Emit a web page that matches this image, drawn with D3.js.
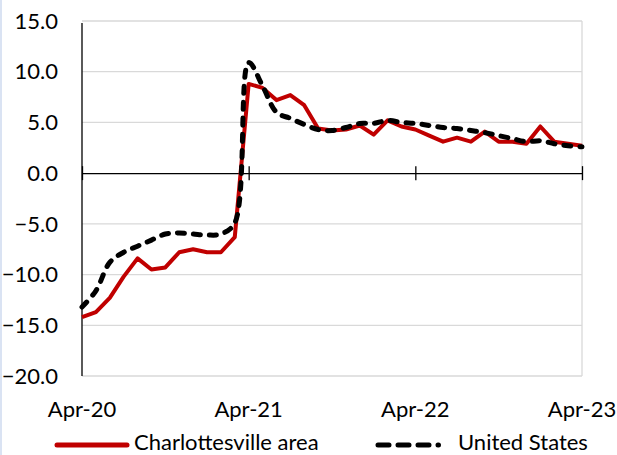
<!DOCTYPE html>
<html lang="en">
<head>
<meta charset="utf-8">
<title>Employment change</title>
<script src="https://d3js.org/d3.v7.min.js"></script>
<style>
  body { margin: 0; background: #fff; }
  text { font-family: Lato, "Open Sans", sans-serif; fill: #000; }
</style>
</head>
<body>
<script>
// month labels shown on the x axis (every 12 months)
var tickLabels = ["Apr-20", "Apr-21", "Apr-22", "Apr-23"];
var yTicks = [-20, -15, -10, -5, 0, 5, 10, 15];

// monthly values, Apr-20 .. Apr-23 (37 points)
var cville = [-14.2, -13.7, -12.3, -10.2, -8.4, -9.5, -9.3, -7.8, -7.5, -7.8, -7.8, -6.3,
  8.8, 8.4, 7.2, 7.7, 6.7, 4.4, 4.2, 4.3, 4.7, 3.8, 5.2, 4.6,
  4.3, 3.7, 3.1, 3.5, 3.1, 4.1, 3.1, 3.1, 2.9, 4.6, 3.1, 2.9, 2.7];
var us = [-13.2, -11.6, -8.8, -7.8, -7.2, -6.6, -6.0, -5.9, -6.0, -6.1, -6.0, -4.9,
  10.9, 8.6, 6.0, 5.4, 4.8, 4.3, 4.2, 4.5, 4.9, 4.9, 5.2, 5.0,
  4.9, 4.7, 4.5, 4.4, 4.2, 4.0, 3.7, 3.4, 3.1, 3.2, 2.9, 2.7, 2.6];

var w = 617, h = 455;
var margin = {left: 82, right: 35, top: 21, bottom: 79};

var svg = d3.select("body").append("svg").attr("width", w).attr("height", h);

// thin blue frame edge on the left
svg.append("rect").attr("x", 0).attr("y", 0).attr("width", 2).attr("height", h).attr("fill", "#dae3f3");

var xScale = d3.scaleLinear().domain([0, cville.length - 1]).range([margin.left, w - margin.right]);
var yScale = d3.scaleLinear().domain([-20, 15]).range([h - margin.bottom, margin.top]);

// gridlines
svg.append("g").selectAll("line").data(yTicks.filter(d => d != 0)).enter().append("line")
  .attr("x1", margin.left).attr("x2", w - margin.right)
  .attr("y1", d => yScale(d)).attr("y2", d => yScale(d))
  .attr("stroke", "#d9d9d9").attr("stroke-width", 1.3);

// right border
svg.append("line").attr("x1", w - margin.right).attr("x2", w - margin.right)
  .attr("y1", margin.top).attr("y2", h - margin.bottom)
  .attr("stroke", "#d9d9d9").attr("stroke-width", 1.3);

// y axis labels
svg.append("g").selectAll("text").data(yTicks).enter().append("text")
  .attr("x", 58).attr("y", d => yScale(d))
  .attr("dy", "0.35em").attr("text-anchor", "end")
  .style("font-size", "22px")
  .text(d => d3.format(".1f")(d));

// y axis line
svg.append("line").attr("x1", margin.left).attr("x2", margin.left)
  .attr("y1", yScale(15) + 2).attr("y2", yScale(-20))
  .attr("stroke", "#000").attr("stroke-width", 1.3);

// x axis at zero
var xAxis = d3.axisBottom(xScale)
  .tickValues([0, 12, 24, 36])
  .tickSize(0)
  .tickFormat("");
var gx = svg.append("g").attr("transform", "translate(0," + yScale(0) + ")").call(xAxis);
gx.select(".domain").attr("stroke", "#000").attr("stroke-width", 1.3);
gx.selectAll(".tick").append("line")
  .attr("y1", -7).attr("y2", 7).attr("stroke", "#000").attr("stroke-width", 1.3);

// x labels along the bottom
svg.append("g").selectAll("text").data(tickLabels).enter().append("text")
  .attr("x", (d, i) => xScale(i * 12)).attr("y", 417)
  .attr("text-anchor", "middle")
  .style("font-size", "22px")
  .text(d => d);

// lines
var lineRed = d3.line().x((d, i) => xScale(i)).y(d => yScale(d));
var lineUS = d3.line().x((d, i) => xScale(i)).y(d => yScale(d)).curve(d3.curveCatmullRom);

svg.append("path").datum(cville)
  .attr("d", lineRed).attr("fill", "none")
  .attr("stroke", "#c00000").attr("stroke-width", 4).attr("stroke-linejoin", "round");

svg.append("path").datum(us)
  .attr("d", lineUS).attr("fill", "none")
  .attr("stroke", "#000").attr("stroke-width", 5)
  .attr("stroke-dasharray", "7,9").attr("stroke-linecap", "round");

// legend
svg.append("line").attr("x1", 57).attr("x2", 127).attr("y1", 445).attr("y2", 445)
  .attr("stroke", "#c00000").attr("stroke-width", 5).attr("stroke-linecap", "round");
svg.append("text").attr("x", 134).attr("y", 450).style("font-size", "22px").text("Charlottesville area");

svg.append("line").attr("x1", 378).attr("x2", 452).attr("y1", 445).attr("y2", 445)
  .attr("stroke", "#000").attr("stroke-width", 5)
  .attr("stroke-dasharray", "11,9,11,9,11,9,0.5,20").attr("stroke-linecap", "round");
svg.append("text").attr("x", 458).attr("y", 450).style("font-size", "22px").text("United States");
</script>
</body>
</html>
